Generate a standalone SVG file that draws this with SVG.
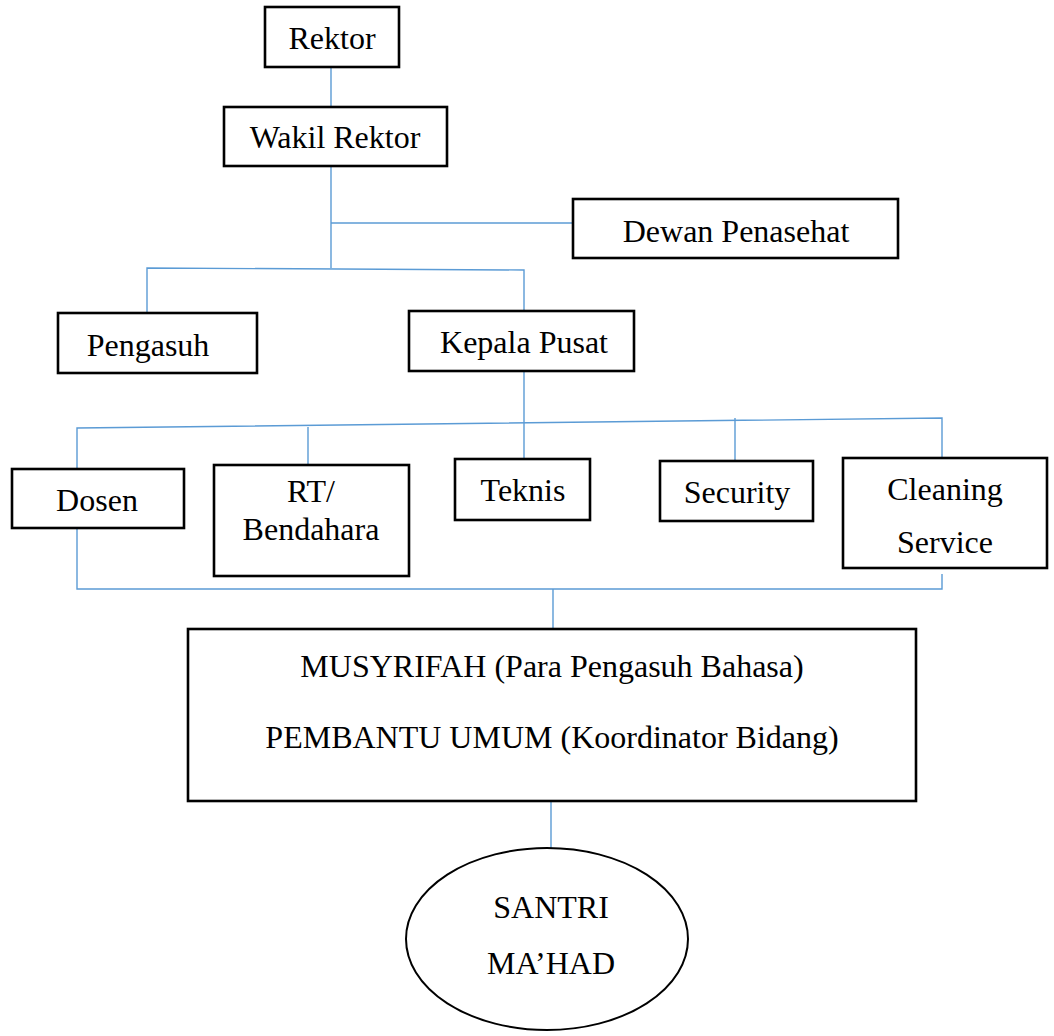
<svg xmlns="http://www.w3.org/2000/svg" width="1054" height="1036" viewBox="0 0 1054 1036">
<style>
.box{fill:#fff;stroke:#000;stroke-width:2.6}
.t{font-family:"Liberation Serif","Times New Roman",serif;font-size:32px;fill:#000;text-anchor:middle}
.c{fill:none;stroke:#5B9BD5;stroke-width:1.4}
</style>
<rect width="1054" height="1036" fill="#fff"/>
<g id="connectors">
<path class="c" d="M331,67V107"/>
<path class="c" d="M331,166V268"/>
<path class="c" d="M331,223H573"/>
<path class="c" d="M147,313V268L524,270V311"/>
<path class="c" d="M524,371V459"/>
<path class="c" d="M77,469V428L942,418V458"/>
<path class="c" d="M308,427V465"/>
<path class="c" d="M735,418V461"/>
<path class="c" d="M77,528V589H942V574"/>
<path class="c" d="M553,589V629"/>
<path class="c" d="M551,801V848"/>
</g>
<g id="rektor"><rect class="box" x="265" y="7" width="134" height="60"/><text class="t" x="332" y="49">Rektor</text></g>
<g id="wakil-rektor"><rect class="box" x="224" y="107" width="223" height="59"/><text class="t" x="335" y="148">Wakil Rektor</text></g>
<g id="dewan-penasehat"><rect class="box" x="573" y="199" width="325" height="59"/><text class="t" x="736" y="242">Dewan Penasehat</text></g>
<g id="pengasuh"><rect class="box" x="58" y="313" width="199" height="60"/><text class="t" x="148" y="356">Pengasuh</text></g>
<g id="kepala-pusat"><rect class="box" x="409" y="311" width="225" height="60"/><text class="t" x="524" y="353">Kepala Pusat</text></g>
<g id="dosen"><rect class="box" x="12" y="469" width="172" height="59"/><text class="t" x="97" y="511">Dosen</text></g>
<g id="rt-bendahara"><rect class="box" x="214" y="465" width="195" height="111"/><text class="t" x="311" y="502">RT/</text><text class="t" x="311" y="540">Bendahara</text></g>
<g id="teknis"><rect class="box" x="455" y="459" width="135" height="61"/><text class="t" x="523" y="501">Teknis</text></g>
<g id="security"><rect class="box" x="660" y="461" width="153" height="60"/><text class="t" x="737" y="503">Security</text></g>
<g id="cleaning-service"><rect class="box" x="843" y="458" width="204" height="110"/><text class="t" x="945" y="500">Cleaning</text><text class="t" x="945" y="553">Service</text></g>
<g id="musyrifah"><rect class="box" x="188" y="629" width="728" height="172"/><text class="t" x="552" y="677">MUSYRIFAH (Para Pengasuh Bahasa)</text><text class="t" x="552" y="748">PEMBANTU UMUM (Koordinator Bidang)</text></g>
<g id="santri"><ellipse cx="547" cy="939" rx="141" ry="91" fill="#fff" stroke="#000" stroke-width="2"/><text class="t" x="551" y="918">SANTRI</text><text class="t" x="551" y="974">MA’HAD</text></g>
</svg>
